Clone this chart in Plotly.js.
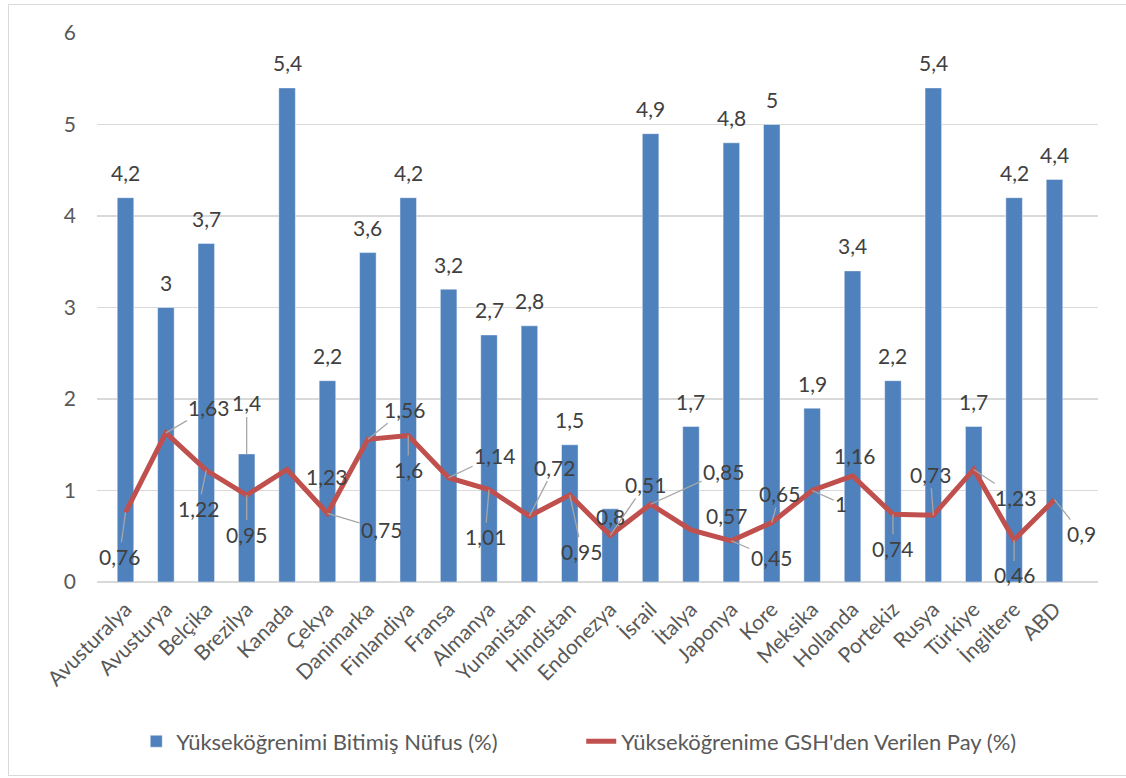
<!DOCTYPE html>
<html>
<head>
<meta charset="utf-8">
<script src="https://cdn.plot.ly/plotly-3.0.1.min.js"></script>
<style>
  html, body { margin: 0; padding: 0; background: #ffffff; overflow: hidden; }
  #frame { position: absolute; left: 8px; top: 4px; width: 1200px; height: 772px; border: 1px solid #d9d9d9; box-sizing: border-box; }
  #chart { position: absolute; left: 0; top: 0; width: 1126px; height: 778px; }
</style>
</head>
<body>
<div id="frame"></div>
<div id="chart"></div>
<script>
// ---- data ----
const categories = ["Avusturalya","Avusturya","Belçika","Brezilya","Kanada","Çekya","Danimarka","Finlandiya","Fransa","Almanya","Yunanistan","Hindistan","Endonezya","İsrail","İtalya","Japonya","Kore","Meksika","Hollanda","Portekiz","Rusya","Türkiye","İngiltere","ABD"];
const graduatesPct = [4.2,3,3.7,1.4,5.4,2.2,3.6,4.2,3.2,2.7,2.8,1.5,0.8,4.9,1.7,4.8,5,1.9,3.4,2.2,5.4,1.7,4.2,4.4];
const gdpSharePct = [0.76,1.63,1.22,0.95,1.23,0.75,1.56,1.6,1.14,1.01,0.72,0.95,0.51,0.85,0.57,0.45,0.65,1,1.16,0.74,0.73,1.23,0.46,0.9];
const barSeriesName = "Yükseköğrenimi Bitimiş Nüfus (%)";
const lineSeriesName = "Yükseköğrenime GSH'den Verilen Pay (%)";
const yTicks = [0,1,2,3,4,5,6];

// ---- label placement (pixel offsets, style only) ----
const lineLabelOffsetX = [-6,43,-8,0,39,54,37,0,46,-4,25,12,35,73,36,40,8,29,2,0,-3,42,0,27];
const lineLabelOffsetY = [44,-25,38,39,7,16,-30,34,-22,47,-49,56,-51,-33,-14,17,-29,13,-20,34,-41,28,35,34];
const lineLabelLeader  = [1,1,1,1,0,1,1,1,1,1,1,1,1,1,0,1,1,1,0,1,1,1,1,1];
const barLabelOffsetY = categories.map(c => c === "Brezilya" ? -51 : (c === "Endonezya" ? 8 : -25));
const barLabelLeader  = categories.map(c => c === "Brezilya" ? 1 : 0);

const FONT = "Lato, 'Open Sans', sans-serif";
const TXT = "#404040";
const fmt = v => String(v).replace(".", ",");

const traces = [
  {
    type: "bar",
    name: barSeriesName,
    x: categories,
    y: graduatesPct,
    marker: { color: "#4F81BD", line: { color: "rgba(255,255,255,0.45)", width: 1 } },
    hoverinfo: "skip"
  },
  {
    type: "scatter",
    mode: "lines",
    name: lineSeriesName,
    x: categories,
    y: gdpSharePct,
    line: { color: "#C0504D", width: 5 },
    hoverinfo: "skip"
  }
];

const annotations = [];
categories.forEach((c, i) => {
  annotations.push({
    x: c, y: graduatesPct[i], xref: "x", yref: "y",
    text: fmt(graduatesPct[i]),
    showarrow: true, arrowhead: 0, standoff: 0,
    arrowcolor: barLabelLeader[i] ? "#a6a6a6" : "rgba(0,0,0,0)", arrowwidth: 1.3,
    ax: 0, ay: barLabelOffsetY[i],
    font: { family: FONT, size: 21, color: TXT }
  });
  annotations.push({
    x: c, y: gdpSharePct[i], xref: "x", yref: "y",
    text: fmt(gdpSharePct[i]),
    showarrow: true, arrowhead: 0, standoff: 0,
    arrowcolor: lineLabelLeader[i] ? "#a6a6a6" : "rgba(0,0,0,0)", arrowwidth: 1.3,
    ax: lineLabelOffsetX[i], ay: lineLabelOffsetY[i],
    font: { family: FONT, size: 21, color: TXT }
  });
});

const layout = {
  width: 1126, height: 778,
  margin: { l: 97, r: 28, t: 33, b: 196 },
  paper_bgcolor: "rgba(0,0,0,0)",
  plot_bgcolor: "rgba(0,0,0,0)",
  font: { family: FONT, size: 21, color: "#595959" },
  bargap: 0.59,
  showlegend: true,
  legend: {
    orientation: "h",
    xref: "container", yref: "container",
    x: 0.121, xanchor: "left",
    y: 0.047, yanchor: "middle",
    font: { family: FONT, size: 22, color: "#595959" },
    entrywidth: 400,
    entrywidthmode: "pixels",
    traceorder: "normal"
  },
  xaxis: {
    type: "category",
    tickangle: -45,
    tickfont: { family: FONT, size: 21, color: "#595959" },
    showgrid: false,
    showline: false,
    ticks: "",
    ticklabelstandoff: 10,
    fixedrange: true
  },
  yaxis: {
    range: [0, 6],
    tickvals: yTicks,
    ticktext: yTicks.map(String),
    tickfont: { family: FONT, size: 21, color: "#595959" },
    showgrid: true,
    gridcolor: "#d9d9d9",
    gridwidth: 1.3,
    zeroline: true,
    zerolinecolor: "#d9d9d9",
    zerolinewidth: 1.3,
    showline: false,
    ticks: "",
    ticklabelstandoff: 20,
    fixedrange: true
  },
  annotations: annotations
};

Plotly.newPlot("chart", traces, layout, { displayModeBar: false, staticPlot: true });
</script>
</body>
</html>
